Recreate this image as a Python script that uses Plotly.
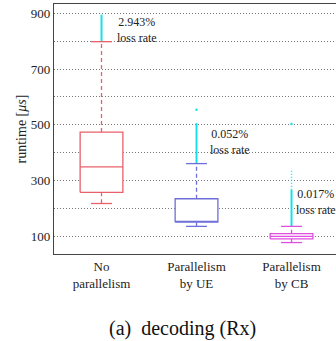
import plotly.graph_objects as go

categories = ["No<br>parallelism", "Parallelism<br>by UE", "Parallelism<br>by CB"]
q1 = [258, 151, 91]
median = [349, 154, 100]
q3 = [474, 235, 110]
lower_whisker = [218, 136, 78]
upper_whisker = [798, 361, 136]
dense_outlier_top = [895, 506, 267]
sparse_outlier_top = [None, None, 339]
single_outlier = [None, 554, 503]
loss_rates = ["2.943%", "0.052%", "0.017%"]
box_colors = ["#e8606a", "#6e6ed8", "#e04ee0"]
outlier_color = "#18e0ea"

label_offset = [0.14, 0.12, 0.025]
label_y = [840, 439, 224]

BW = 0.45
CW = 0.11
FONT = "Liberation Serif, Times New Roman, serif"

fig = go.Figure()
for i in range(len(categories)):
    c = box_colors[i]
    fig.add_trace(go.Scatter(x=[i, i], y=[upper_whisker[i], dense_outlier_top[i]], mode="lines",
                             line=dict(color=outlier_color, width=2), showlegend=False, hoverinfo="skip"))
    if sparse_outlier_top[i] is not None:
        fig.add_trace(go.Scatter(x=[i, i], y=[dense_outlier_top[i], sparse_outlier_top[i]], mode="lines",
                                 line=dict(color=outlier_color, width=1.5, dash="1px,2px"), showlegend=False, hoverinfo="skip"))
    if single_outlier[i] is not None:
        fig.add_trace(go.Scatter(x=[i], y=[single_outlier[i]], mode="markers",
                                 marker=dict(color=outlier_color, size=2.5), showlegend=False, hoverinfo="skip"))
    fig.add_trace(go.Scatter(x=[i, i, None, i, i], y=[q3[i], upper_whisker[i], None, q1[i], lower_whisker[i]],
                             mode="lines", line=dict(color=c, width=1.3, dash="4px,3px"), showlegend=False, hoverinfo="skip"))
    fig.add_trace(go.Scatter(x=[i - CW, i + CW, None, i - CW, i + CW],
                             y=[upper_whisker[i], upper_whisker[i], None, lower_whisker[i], lower_whisker[i]],
                             mode="lines", line=dict(color=c, width=1.3), showlegend=False, hoverinfo="skip"))
    fig.add_trace(go.Scatter(x=[i - BW / 2, i + BW / 2, i + BW / 2, i - BW / 2, i - BW / 2],
                             y=[q1[i], q1[i], q3[i], q3[i], q1[i]], mode="lines", fill="toself",
                             fillcolor="white", line=dict(color=c, width=1.3), showlegend=False, hoverinfo="skip"))
    fig.add_trace(go.Scatter(x=[i - BW / 2, i + BW / 2], y=[median[i], median[i]], mode="lines",
                             line=dict(color=c, width=1.3), showlegend=False, hoverinfo="skip"))
    fig.add_annotation(x=i + label_offset[i], y=label_y[i], text=loss_rates[i] + "<br>loss rate",
                       showarrow=False, xanchor="left", yanchor="middle", align="center",
                       font=dict(family=FONT, size=12, color="#222"))

ytick_vals = list(range(100, 1000, 100))
ytick_text = [str(v) if v % 200 == 100 else "" for v in ytick_vals]

fig.update_layout(
    width=336, height=341,
    margin=dict(l=54, r=0, t=4, b=87, autoexpand=False),
    plot_bgcolor="white", paper_bgcolor="white",
    font=dict(family=FONT, size=13, color="#222"),
    xaxis=dict(range=[-0.5, 2.468], tickvals=[0, 1, 2], ticktext=categories, showgrid=False,
               zeroline=False, showline=True, linecolor="#444", linewidth=1.2, mirror=True,
               ticks="", tickfont=dict(family=FONT, size=13, color="#222")),
    yaxis=dict(range=[37, 933], tickvals=ytick_vals, ticktext=ytick_text, showgrid=True,
               gridcolor="#777", griddash="1px,2px", gridwidth=1, zeroline=False, showline=True,
               linecolor="#444", linewidth=1.2, ticks="", ticklen=0, automargin=False,
               ticklabeloverflow="allow",
               title=dict(text="runtime [<i>μs</i>]", font=dict(family=FONT, size=14, color="#222"), standoff=0),
               tickfont=dict(family=FONT, size=13, color="#222")),
)
fig.add_annotation(xref="paper", yref="paper", x=0.455, y=-0.299, xanchor="center", yanchor="middle",
                   text="(a)  decoding (Rx)", showarrow=False, font=dict(family=FONT, size=20, color="#111"))
fig.write_html("out.html", config={"displayModeBar": False},
               post_script="document.body.style.margin='0';document.documentElement.style.overflow='hidden';document.body.style.overflow='hidden';")
